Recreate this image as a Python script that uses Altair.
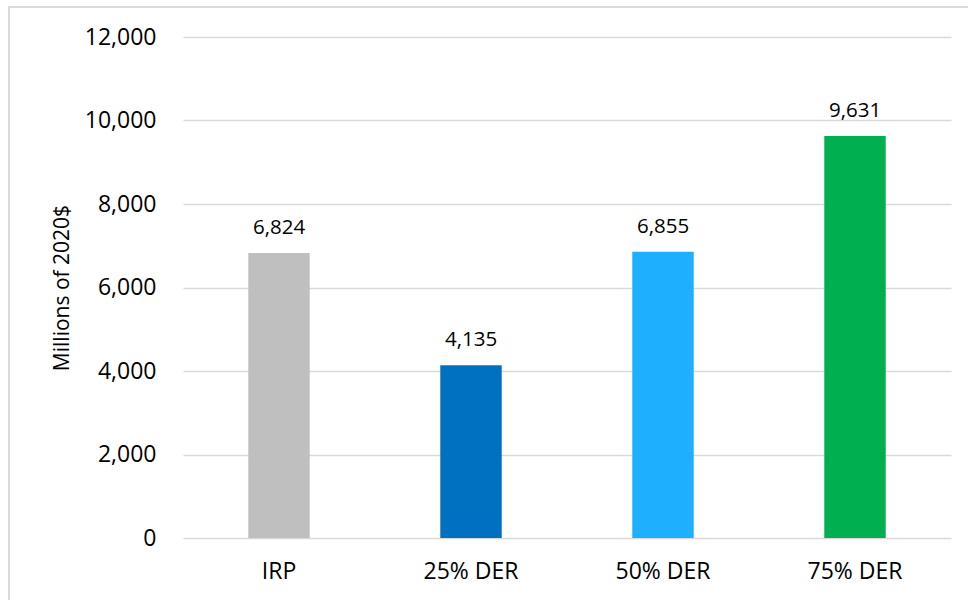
import altair as alt
import pandas as pd

# Scenario costs (millions of 2020$)
scenarios = ["IRP", "25% DER", "50% DER", "75% DER"]
costs = [6824, 4135, 6855, 9631]
bar_colors = ["#BFBFBF", "#0070C0", "#1EB0FF", "#00B050"]
y_ticks = [0, 2000, 4000, 6000, 8000, 10000, 12000]

df = pd.DataFrame({"scenario": scenarios, "cost": costs})

FONT = "Open Sans"
GRID = "#D9D9D9"

x_enc = alt.X(
    "scenario:N",
    sort=scenarios,
    scale=alt.Scale(paddingInner=0.68, paddingOuter=0.34),
    axis=alt.Axis(
        title=None,
        labelAngle=0,
        labelFont=FONT,
        labelFontSize=23,
        labelColor="#000000",
        labelPadding=22,
        domain=False,
        ticks=False,
    ),
)

y_enc = alt.Y(
    "cost:Q",
    scale=alt.Scale(domain=[0, 12000], nice=False),
    axis=alt.Axis(
        title="Millions of 2020$",
        values=y_ticks,
        format=",.0f",
        labelFont=FONT,
        labelFontSize=23,
        labelColor="#000000",
        labelPadding=27,
        domain=False,
        ticks=False,
        grid=True,
        gridColor=GRID,
        gridWidth=1.5,
        titleFont=FONT,
        titleFontSize=21,
        titleFontWeight="normal",
        titleColor="#000000",
        titleAngle=270,
        titleAlign="center",
        titleBaseline="middle",
        titleX=-121,
        titleY=250.5,
    ),
)

bars = alt.Chart(df).mark_bar().encode(
    x=x_enc,
    y=y_enc,
    color=alt.Color(
        "scenario:N",
        sort=scenarios,
        scale=alt.Scale(domain=scenarios, range=bar_colors),
        legend=None,
    ),
)

labels = alt.Chart(df).mark_text(
    font=FONT, fontSize=20.5, color="#000000", baseline="alphabetic", dy=-19
).encode(
    x=alt.X("scenario:N", sort=scenarios),
    y=alt.Y("cost:Q"),
    text=alt.Text("cost:Q", format=",.0f"),
)

# Thin light frame around the whole chart
frame = alt.Chart(pd.DataFrame({"k": [0]})).mark_rect(
    fill=None, stroke=GRID, strokeWidth=2
).encode(
    x=alt.value(-174),
    x2=alt.value(820),
    y=alt.value(-30),
    y2=alt.value(600),
)

chart = (
    alt.layer(bars, labels, frame)
    .properties(
        width=768,
        height=501,
        autosize=alt.AutoSizeParams(type="none"),
        padding={"left": 183, "top": 37, "right": 17, "bottom": 62},
        background="#FFFFFF",
    )
    .configure_view(stroke=None)
)

chart.save("out.html", embed_options={"renderer": "svg", "actions": False})
